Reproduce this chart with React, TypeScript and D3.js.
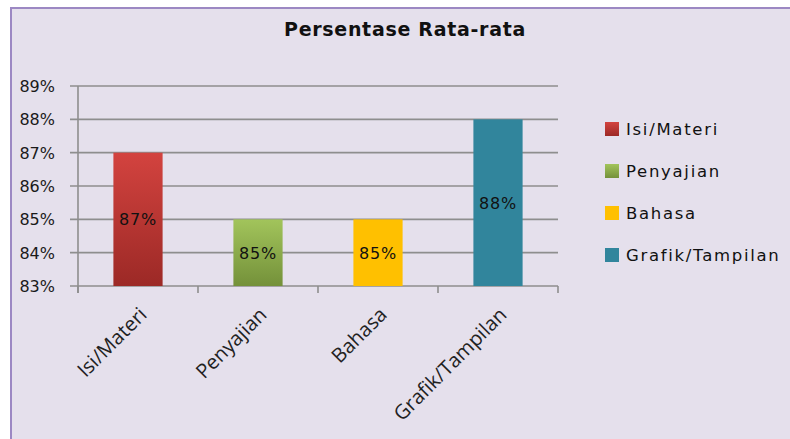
import React from "react";
import * as d3 from "d3";

const categories = ["Isi/Materi", "Penyajian", "Bahasa", "Grafik/Tampilan"];
const values = [87, 85, 85, 88];
const valueLabels = ["87%", "85%", "85%", "88%"];
const yTicks = [83, 84, 85, 86, 87, 88, 89];
const yTickLabels = ["83%", "84%", "85%", "86%", "87%", "88%", "89%"];
const title = "Persentase Rata-rata";

const W = 790;
const H = 439;
const barTop = ["#D3433F", "#A2C45B", "#FFC000", "#31859C"];
const barBottom = ["#9C2926", "#74913A", "#FFC000", "#31859C"];

export default function App() {
  const x = d3
    .scaleBand<string>()
    .domain(categories)
    .range([78, 558])
    .paddingInner(0.59)
    .paddingOuter(0.295);
  const y = d3.scaleLinear().domain([83, 89]).range([286, 86]);

  const tickFont = "'DejaVu Sans', Verdana, sans-serif";
  const catEdges = [78, ...categories.map((c) => (x(c) as number) + x.bandwidth() + (x.step() * x.paddingInner()) / 2)];

  return (
    <svg
      width={W}
      height={H}
      style={{ position: "absolute", left: 0, top: 0, display: "block" }}
    >
      <defs>
        {categories.map((c, i) => (
          <linearGradient key={c} id={`bar${i}`} x1="0" y1="0" x2="0" y2="1">
            <stop offset="0" stopColor={barTop[i]} />
            <stop offset="1" stopColor={barBottom[i]} />
          </linearGradient>
        ))}
      </defs>
      <rect x={0} y={0} width={W} height={H} fill="#ffffff" />
      <rect
        x={11}
        y={8}
        width={W + 20}
        height={H + 20}
        fill="#E5E0EC"
        stroke="#9C88C3"
        strokeWidth={2}
      />

      <text
        x={405}
        y={36}
        textAnchor="middle"
        fontFamily={tickFont}
        fontWeight="bold"
        fontSize={19}
        letterSpacing={0.7}
        fill="#111"
      >
        {title}
      </text>

      {/* horizontal gridlines with left tick marks */}
      {yTicks.map((t, i) => (
        <g key={t}>
          <line
            x1={70}
            x2={558}
            y1={y(t)}
            y2={y(t)}
            stroke="#8E8E8E"
            strokeWidth={1.6}
          />
          <text
            x={55}
            y={y(t) + 6}
            textAnchor="end"
            fontFamily={tickFont}
            fontSize={16}
            fill="#1a1a1a"
          >
            {yTickLabels[i]}
          </text>
        </g>
      ))}

      {/* value axis */}
      <line x1={78} x2={78} y1={y(89)} y2={293} stroke="#8E8E8E" strokeWidth={1.6} />
      {catEdges.map((cx, i) => (
        <line
          key={i}
          x1={cx}
          x2={cx}
          y1={y(83)}
          y2={293}
          stroke="#8E8E8E"
          strokeWidth={1.6}
        />
      ))}

      {/* bars */}
      {categories.map((c, i) => (
        <rect
          key={c}
          x={x(c)}
          y={y(values[i])}
          width={x.bandwidth()}
          height={y(83) - y(values[i])}
          fill={`url(#bar${i})`}
        />
      ))}

      {/* value labels centred in the bars */}
      {categories.map((c, i) => (
        <text
          key={c}
          x={(x(c) as number) + x.bandwidth() / 2}
          y={(y(values[i]) + y(83)) / 2 + 6}
          textAnchor="middle"
          fontFamily={tickFont}
          fontSize={16}
          letterSpacing={0.8}
          fill="#111"
        >
          {valueLabels[i]}
        </text>
      ))}

      {/* category labels */}
      {categories.map((c) => {
        const cx = (x(c) as number) + x.bandwidth() / 2 + 10;
        const cy = 316;
        return (
          <text
            key={c}
            transform={`translate(${cx},${cy}) rotate(-45)`}
            textAnchor="end"
            fontFamily="'Open Sans', sans-serif"
            fontSize={20}
            fill="#222"
          >
            {c}
          </text>
        );
      })}

      {/* legend */}
      {categories.map((c, i) => {
        const ly = 129 + i * 42;
        return (
          <g key={c}>
            <rect
              x={605}
              y={ly - 7}
              width={14}
              height={14}
              fill={`url(#bar${i})`}
            />
            <text
              x={626}
              y={ly + 6}
              fontFamily={tickFont}
              fontSize={16.5}
              letterSpacing={1.7}
              fill="#111"
            >
              {c}
            </text>
          </g>
        );
      })}
    </svg>
  );
}
